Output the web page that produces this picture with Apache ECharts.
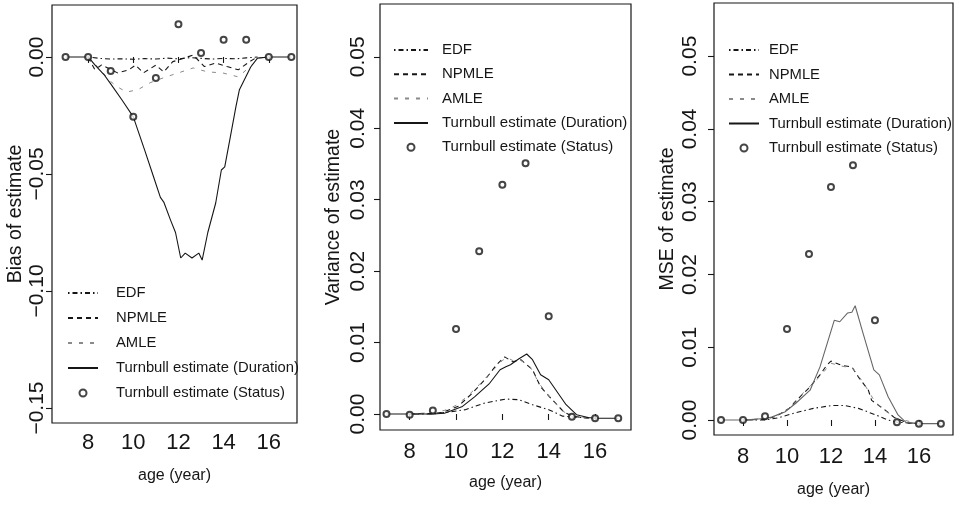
<!DOCTYPE html>
<html><head><meta charset="utf-8">
<script src="https://cdn.jsdelivr.net/npm/echarts@6/dist/echarts.min.js"></script>
<style>html,body{margin:0;padding:0;background:#fff}#c{width:960px;height:505px}</style>
</head><body><div id="c"></div>
<script>
// ---------- data (age in years, value) ----------
const xTicks = [8, 10, 12, 14, 16];
const biasTicks = [-0.15, -0.10, -0.05, 0.00];
const varTicks = [0.00, 0.01, 0.02, 0.03, 0.04, 0.05];
const legendNames = ['EDF', 'NPMLE', 'AMLE', 'Turnbull estimate (Duration)', 'Turnbull estimate (Status)'];

// Panel 1: bias
const biasEDF = [[8,0],[8.5,-0.0006],[9,-0.0009],[9.5,-0.0008],[10,-0.001],[10.5,-0.0007],[11,-0.0009],[11.5,-0.0005],[12,-0.0008],[12.5,-0.0003],[13,-0.0006],[13.5,-0.0009],[14,-0.0006],[14.5,-0.0008],[15,-0.0004],[15.5,0]];
const biasNPMLE = [[8,0],[8.3,-0.0055],[8.6,-0.0034],[9.3,-0.0068],[9.8,-0.0055],[10.1,-0.0035],[10.45,-0.0068],[11,-0.0035],[11.35,-0.0064],[11.75,-0.002],[12,-0.0013],[12.4,0],[12.65,0.0008],[13.15,-0.0041],[13.65,-0.0026],[14.15,-0.0041],[14.65,-0.0055],[15.15,-0.002],[15.5,0]];
const biasAMLE = [[8,0],[8.5,-0.005],[9,-0.0105],[9.3,-0.0128],[9.7,-0.015],[10.2,-0.014],[10.75,-0.011],[11.45,-0.0085],[12,-0.0068],[12.65,-0.0047],[13.3,-0.0064],[13.95,-0.0068],[14.65,-0.0085],[15.15,-0.0043],[15.6,-0.0004],[16,0]];
const biasDuration = [[7,0],[8,0],[8.3,-0.0034],[8.7,-0.0075],[9,-0.0115],[9.5,-0.0184],[10,-0.0256],[10.5,-0.0397],[10.9,-0.0513],[11.2,-0.060],[11.35,-0.062],[11.65,-0.0697],[11.87,-0.075],[12.1,-0.0859],[12.3,-0.0838],[12.6,-0.0859],[12.9,-0.0838],[13.05,-0.0868],[13.3,-0.075],[13.65,-0.0624],[13.9,-0.0483],[14.05,-0.047],[14.3,-0.034],[14.55,-0.021],[14.7,-0.014],[15.2,-0.0043],[15.5,-0.0005],[16,0],[17,0]];
const biasStatus = [[7,0],[8,0],[9,-0.006],[10,-0.0256],[11,-0.009],[12,0.014],[13,0.0017],[14,0.0073],[15,0.0073],[16,0],[17,0]];

// Panel 2: variance
const varEDF = [[8,0],[9,0],[9.5,0.0002],[10.4,0.0006],[11.2,0.0015],[12.15,0.0021],[12.7,0.002],[13.3,0.0013],[14,0.0006],[14.6,-0.0003],[15,-0.0004],[16,-0.0006]];
const varNPMLE = [[8,0],[9,0.0001],[9.4,0.0002],[10.1,0.0011],[10.7,0.0029],[11.3,0.005],[11.75,0.0069],[12.1,0.008],[12.45,0.0073],[12.8,0.0076],[13.3,0.0062],[13.65,0.0038],[14.15,0.002],[14.65,0.0003],[15,-0.0003],[15.5,-0.0005],[16,-0.0006]];
const varAMLE = [[8,0],[9,0.0002],[9.5,0.0005],[10,0.0012],[10.5,0.0025],[11,0.0041],[11.5,0.0058],[12,0.0075],[12.2,0.0079],[12.5,0.0074],[12.8,0.0075],[13.2,0.0066],[13.6,0.0042],[14.1,0.0022],[14.6,0.0004],[15,-0.0003],[16,-0.0006]];
const varDuration = [[7,0],[8,0],[9,0],[9.5,0.0001],[10.25,0.001],[10.8,0.0024],[11.45,0.0043],[11.9,0.0062],[12.15,0.0066],[12.35,0.0069],[12.7,0.0077],[13.05,0.0084],[13.3,0.0076],[13.65,0.0055],[14,0.0048],[14.3,0.0034],[14.75,0.0013],[15.2,-0.0001],[15.7,-0.0005],[16,-0.0006],[17,-0.0006]];
const varStatus = [[7,0],[8,-0.0001],[9,0.0005],[10,0.0119],[11,0.0228],[12,0.0321],[13,0.0351],[14,0.0137],[15,-0.0004],[16,-0.0006],[17,-0.0006]];

// Panel 3: MSE
const mseEDF = [[8,0],[9,0],[9.6,0.0003],[10.4,0.001],[11.2,0.0016],[12.05,0.002],[12.6,0.002],[13.25,0.0016],[13.95,0.0008],[14.6,0],[15,-0.0003],[16,-0.0005]];
const mseNPMLE = [[8,0],[9,0.0001],[9.5,0.0005],[10.1,0.0016],[10.6,0.0032],[11,0.0044],[11.5,0.0062],[11.8,0.0075],[12,0.0081],[12.5,0.0075],[12.95,0.0073],[13.25,0.0059],[13.7,0.0041],[13.85,0.0027],[14.45,0.0014],[14.9,0.0003],[15.5,-0.0004],[16,-0.0005]];
const mseAMLE = [[8,0],[9,0.0002],[9.5,0.0006],[10,0.0014],[10.5,0.003],[11,0.0045],[11.5,0.006],[12,0.0078],[12.5,0.0074],[13,0.0071],[13.5,0.005],[14,0.0025],[14.5,0.0012],[15,0.0002],[16,-0.0005]];
const mseDuration = [[7,0],[8,0],[9,0.0002],[9.3,0.0004],[9.9,0.0011],[10.4,0.0023],[11.05,0.0041],[11.5,0.0073],[12.15,0.0137],[12.4,0.0135],[12.75,0.0147],[12.95,0.0148],[13.1,0.0157],[13.45,0.012],[13.95,0.0069],[14.2,0.0062],[14.6,0.0032],[15.05,0.0007],[15.4,-0.0003],[16,-0.0005],[17,-0.0005]];
const mseStatus = [[7,0],[8,0],[9,0.0005],[10,0.0125],[11,0.0228],[12,0.032],[13,0.035],[14,0.0137],[15,-0.0003],[16,-0.0005],[17,-0.0005]];

// ---------- layout / style ----------
const SANS = '"Liberation Sans",Arial,sans-serif';
const INK = '#161616';
const fmt = v => (v < 0 ? '\u2212' : '') + Math.abs(v).toFixed(2);

const panels = [
  {grid:{left:52,top:5,width:245,height:418}, x:[6.4,17.25], y:[-0.1564,0.0222], yTicks:biasTicks, yName:'Bias of estimate',
   yLabelMargin:15, yNameGap:32, xLabelMargin:20, xNameGap:53,
   legend:{left:67,top:284,w:30,gap:7,pad:13,fs:14.8},
   d:[biasEDF,biasNPMLE,biasAMLE,biasDuration,biasStatus], durColor:INK},
  {grid:{left:380,top:4,width:251,height:426}, x:[6.72,17.55], y:[-0.00224,0.0574], yTicks:varTicks, yName:'Variance of estimate',
   yLabelMargin:22, yNameGap:46, xLabelMargin:22, xNameGap:53,
   legend:{left:393,top:41,w:34,gap:6.3,pad:9,fs:15},
   d:[varEDF,varNPMLE,varAMLE,varDuration,varStatus], durColor:INK},
  {grid:{left:714,top:3,width:239,height:432}, x:[6.68,17.55], y:[-0.00206,0.0573], yTicks:varTicks, yName:'MSE of estimate',
   yLabelMargin:24, yNameGap:46, xLabelMargin:22, xNameGap:55,
   legend:{left:728,top:41,w:30,gap:6.5,pad:5,fs:14.8},
   d:[mseEDF,mseNPMLE,mseAMLE,mseDuration,mseStatus], durColor:'#666'}
];

const grids = [], xAxes = [], yAxes = [], series = [], legends = [];
panels.forEach((p, i) => {
  grids.push(Object.assign({show:true, borderColor:INK, borderWidth:1.2, backgroundColor:'transparent', containLabel:false}, p.grid));
  xAxes.push({gridIndex:i, type:'value', min:p.x[0], max:p.x[1],
    axisLine:{show:false}, splitLine:{show:false},
    axisTick:{show:true, customValues:xTicks, length:6, lineStyle:{color:INK, width:1.1}},
    axisLabel:{customValues:xTicks, margin:p.xLabelMargin, fontSize:22, fontFamily:SANS, color:INK, verticalAlign:'middle'},
    name:'age (year)', nameLocation:'middle', nameGap:p.xNameGap,
    nameTextStyle:{fontSize:16, fontFamily:SANS, color:INK, verticalAlign:'middle'}});
  yAxes.push({gridIndex:i, type:'value', min:p.y[0], max:p.y[1],
    axisLine:{show:false}, splitLine:{show:false},
    axisTick:{show:true, customValues:p.yTicks, length:6, lineStyle:{color:INK, width:1.1}},
    axisLabel:{customValues:p.yTicks, rotate:90, margin:p.yLabelMargin, fontSize:21, fontFamily:SANS, color:INK,
      align:'center', verticalAlign:'middle', formatter:fmt},
    name:p.yName, nameLocation:'middle', nameRotate:90, nameGap:p.yNameGap,
    nameTextStyle:{fontSize:19.5, fontFamily:SANS, color:INK, align:'center', verticalAlign:'middle'}});
  const base = {xAxisIndex:i, yAxisIndex:i, type:'line', symbol:'none', smooth:false, silent:true, animation:false};
  series.push(Object.assign({}, base, {name:'EDF', data:p.d[0], lineStyle:{color:INK, width:1.1, type:[1.5,3,5,3]}, itemStyle:{color:INK}}));
  series.push(Object.assign({}, base, {name:'NPMLE', data:p.d[1], lineStyle:{color:INK, width:1.1, type:[5,4]}, itemStyle:{color:INK}}));
  series.push(Object.assign({}, base, {name:'AMLE', data:p.d[2], lineStyle:{color:'#8a8a8a', width:1, type:[4,7]}, itemStyle:{color:'#8a8a8a'}}));
  series.push(Object.assign({}, base, {name:'Turnbull estimate (Duration)', data:p.d[3], lineStyle:{color:p.durColor, width:1.1, type:'solid'}, itemStyle:{color:INK}}));
  series.push({xAxisIndex:i, yAxisIndex:i, type:'scatter', name:'Turnbull estimate (Status)', data:p.d[4], symbol:'emptyCircle', symbolSize:6,
    itemStyle:{color:INK, borderColor:INK, borderWidth:1}, silent:true, animation:false, z:5});
  const L = p.legend;
  legends.push({orient:'vertical', left:L.left, top:L.top, padding:0, itemWidth:L.w, itemHeight:7, itemGap:L.gap, selectedMode:false,
    data:legendNames.map((n, k) => k < 4 ? {name:n, itemStyle:{opacity:0}} : {name:n}),
    textStyle:{fontFamily:SANS, fontSize:L.fs, color:INK, lineHeight:18, padding:[0,0,0,L.pad]}});
});

const chart = echarts.init(document.getElementById('c'), null, {renderer:'canvas'});
chart.setOption({backgroundColor:'#fff', animation:false, grid:grids, xAxis:xAxes, yAxis:yAxes, series, legend:legends});
</script></body></html>
